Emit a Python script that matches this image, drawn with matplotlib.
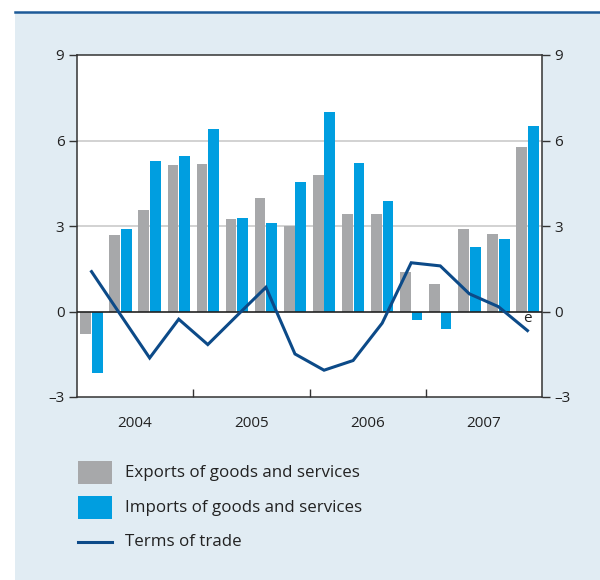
import matplotlib
matplotlib.use("Agg")
import matplotlib.pyplot as plt
from matplotlib.patches import Rectangle
from matplotlib.lines import Line2D
import numpy as np

plt.rcParams["font.family"] = ["Open Sans", "DejaVu Sans"]

# Quarterly data, 2004 Q1 – 2007 Q4 (percentage change)
years = ["2004", "2005", "2006", "2007"]
exports = [-0.80, 2.67, 3.55, 5.15, 5.19, 3.23, 3.97, 3.00,
           4.80, 3.41, 3.41, 1.38, 0.97, 2.88, 2.71, 5.78]
imports = [-2.16, 2.88, 5.29, 5.47, 6.41, 3.27, 3.09, 4.56,
           7.00, 5.22, 3.86, -0.29, -0.60, 2.26, 2.53, 6.51]
terms_of_trade = [1.40, -0.12, -1.63, -0.27, -1.16, -0.15, 0.85, -1.49,
                  -2.06, -1.72, -0.41, 1.71, 1.60, 0.62, 0.17, -0.67]
yticks = [-3, 0, 3, 6, 9]
ytick_labels = ["\u20133", "0", "3", "6", "9"]

labels = ["Exports of goods and services",
          "Imports of goods and services",
          "Terms of trade"]

C_EXP = "#a7a8aa"
C_IMP = "#009ee0"
C_TOT = "#0c4a88"
C_BG = "#e1ecf3"
C_TXT = "#222222"

W, H = 600, 580
fig = plt.figure(figsize=(W / 100, H / 100), dpi=100, facecolor="white")

# panel background and top rule
fig.patches.append(Rectangle((15 / W, 0), 1 - 15 / W, 1 - 12 / H,
                             transform=fig.transFigure, facecolor=C_BG,
                             edgecolor="none", zorder=-5))
fig.lines.append(Line2D([15 / W, 1], [1 - 12 / H, 1 - 12 / H],
                        transform=fig.transFigure, color="#1d5a98", lw=1.8,
                        zorder=-4))

ax = fig.add_axes([77 / W, 1 - 397 / H, (542 - 77) / W, (397 - 55) / H])
ax.set_facecolor("white")

n = len(exports)
x = np.arange(n) + 0.5
bw = 0.37
ax.bar(x - 0.2, exports, width=bw, color=C_EXP, zorder=2)
ax.bar(x + 0.2, imports, width=bw, color=C_IMP, zorder=2)
ax.plot(x, terms_of_trade, color=C_TOT, lw=2.2, zorder=4,
        solid_joinstyle="miter")
ax.text(x[-1], terms_of_trade[-1] + 0.42, "e", fontsize=11, color=C_TXT,
        ha="center", va="center", zorder=5)

ax.set_xlim(0, n)
ax.set_ylim(-3, 9)

for g in (3, 6):
    ax.axhline(g, color="#c6c6c6", lw=1.1, zorder=1)
ax.axhline(0, color="#222222", lw=1.2, zorder=3)

for s in ax.spines.values():
    s.set_color("#333333")
    s.set_linewidth(1.1)

ax.set_yticks(yticks)
ax.set_yticklabels(ytick_labels)
ax.tick_params(axis="y", direction="out", length=6, width=1, color="#333333",
               labelsize=11, labelcolor=C_TXT, left=True, right=True,
               labelleft=True, labelright=True, pad=3)

ax.set_xticks([4, 8, 12])
ax.set_xticklabels([])
ax.set_xticks([2, 6, 10, 14], minor=True)
ax.set_xticklabels(years, minor=True)
ax.tick_params(axis="x", which="major", direction="in", length=6, width=1,
               color="#333333")
ax.tick_params(axis="x", which="minor", length=0, labelsize=11,
               labelcolor=C_TXT, pad=14)

# legend
def fy(py):
    return 1 - py / H

fig.patches.append(Rectangle((78 / W, fy(484)), 34 / W, 23 / H,
                             transform=fig.transFigure, facecolor=C_EXP,
                             edgecolor="none"))
fig.patches.append(Rectangle((78 / W, fy(519)), 34 / W, 23 / H,
                             transform=fig.transFigure, facecolor=C_IMP,
                             edgecolor="none"))
fig.lines.append(Line2D([78 / W, 112 / W], [fy(542), fy(542)],
                        transform=fig.transFigure, color=C_TOT, lw=2.2))
for py, lab in zip([473, 508, 542], labels):
    fig.text(125 / W, fy(py), lab, fontsize=12.2, color=C_TXT,
             ha="left", va="center")

fig.savefig("out.png", dpi=100, facecolor="white")
